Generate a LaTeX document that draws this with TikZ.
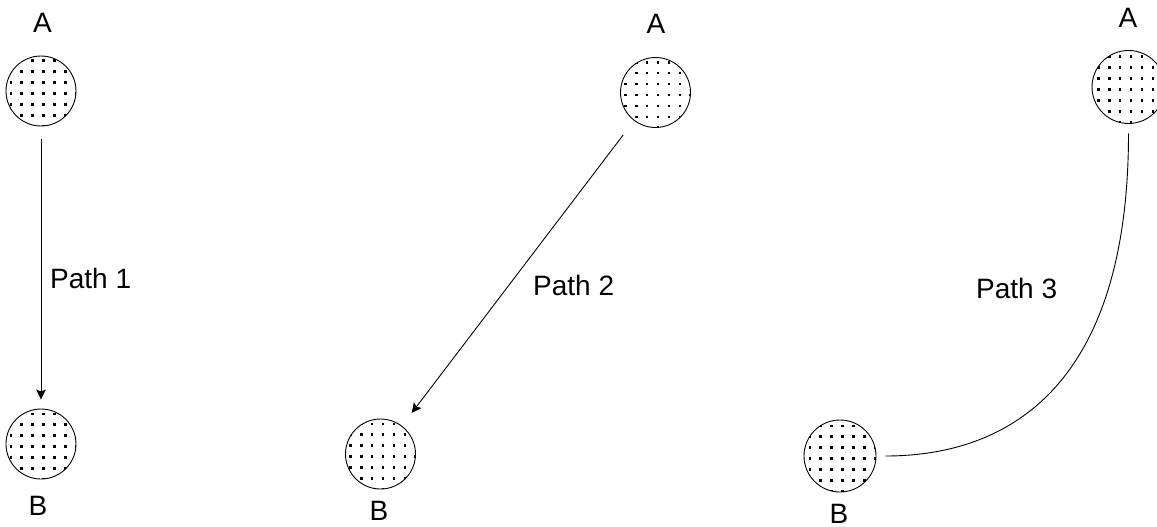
\documentclass[tikz,border=0pt]{standalone}
\usepackage{fontspec}
\setmainfont{Liberation Sans}
\usetikzlibrary{arrows.meta}

\tikzset{
  % circle filled with a regular grid of small square dots
  dotdisc/.style={circle, draw=black, line width=0.9pt, inner sep=0pt,
    minimum size=#1,
    path picture={
      \foreach \k in {-4,...,3}
        \foreach \m in {-4,...,3}
          \fill[black] ([shift={(\k*10.9+1.2,\m*10.9+1.2)}]path picture bounding box.center)
            rectangle ++(2.6,2.6);
    }},
  dotdisc/.default=70pt,
  lbl/.style={font=\fontsize{28}{34}\selectfont, inner sep=0pt, anchor=base},
  wire/.style={draw=black, line width=0.9pt},
  tip/.style={-{Stealth[length=10pt,width=9.5pt,inset=2pt]}},
}

\begin{document}
\begin{tikzpicture}[x=1pt,y=-1pt]
  \useasboundingbox (0,0) rectangle (1157,527);

  % first pair: straight vertical arrow
  \node[dotdisc] (A1) at (41,91) {};
  \node[dotdisc] (B1) at (41,444) {};
  \node[lbl] (tA1) at (42.5,33) {A};
  \node[lbl] (tB1) at (38,515) {B};
  \draw[wire,tip,shorten <=12.5pt,shorten >=9pt] (A1) -- (B1);
  \node[lbl,anchor=base west] (p1) at (50,288) {Path 1};

  % second pair: diagonal arrow
  \node[dotdisc] (A2) at (655.5,92.5) {};
  \node[dotdisc] (B2) at (380.5,454) {};
  \node[lbl] (tA2) at (656,34) {A};
  \node[lbl] (tB2) at (379,520) {B};
  \draw[wire,tip,shorten <=18pt,shorten >=16pt] (A2) -- (B2);
  \node[lbl,anchor=base west] (p2) at (533,295) {Path 2};

  % third pair: curved line without arrowhead
  \node[dotdisc=73pt] (A3) at (1128.5,87) {};
  \node[dotdisc=72pt] (B3) at (840,456) {};
  \node[lbl] (tA3) at (1128,28) {A};
  \node[lbl] (tB3) at (839,523) {B};
  \draw[wire,shorten <=9.5pt,shorten >=9pt]
    (A3.south) .. controls (1128.5,385) and (1010,456) .. (B3.east);
  \node[lbl,anchor=base west] (p3) at (976,298) {Path 3};
\end{tikzpicture}
\end{document}
